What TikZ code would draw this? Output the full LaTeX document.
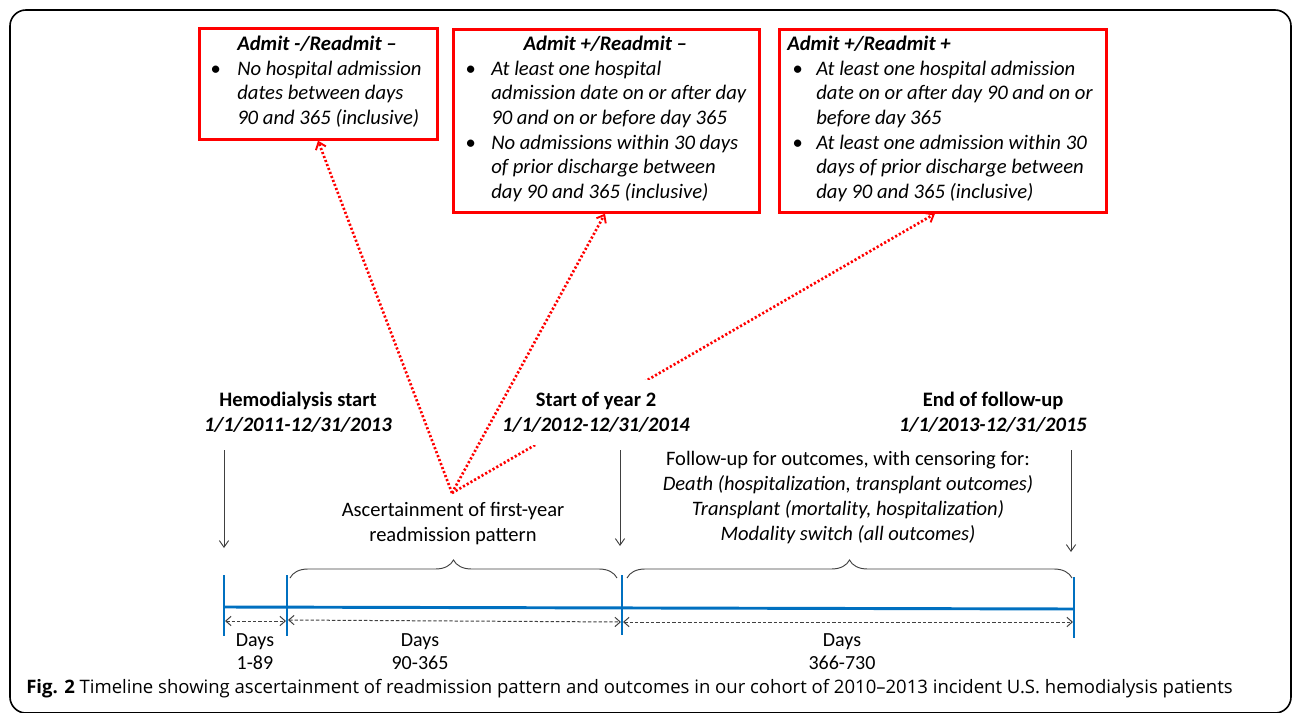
\documentclass[tikz,border=0pt]{standalone}
\usepackage{fontspec}
\setmainfont{Carlito}
\newfontfamily\capfont{Open Sans}
\usetikzlibrary{arrows.meta,decorations.pathreplacing}
\definecolor{tlblue}{HTML}{0070C0}
\definecolor{dgray}{HTML}{404040}
\tikzset{
  redbox/.style={draw=red, line width=2pt, inner sep=0pt, anchor=north west},
  boxtext/.style={anchor=west, inner sep=0pt, font=\fontsize{15.5}{18.5}\selectfont\itshape},
  redarrow/.style={red, line width=2pt, dash pattern=on 1.6pt off 1.6pt, -{Straight Barb[length=5pt,width=8pt,line width=1.4pt]}},
  blackarrow/.style={dgray, line width=0.7pt, -{Straight Barb[length=5pt,width=7pt]}},
  dasharrow/.style={dgray, line width=0.75pt, dash pattern=on 2.5pt off 1.5pt, {Straight Barb[length=4pt,width=7pt]}-{Straight Barb[length=4pt,width=7pt]}},
  tick/.style={tlblue, line width=2.2pt},
  bracestyle/.style={dgray, line width=0.7pt, decorate, decoration={brace, amplitude=13.5pt}},
  lab/.style={align=center, font=\fontsize{15.4}{18.75}\selectfont},
  daylab/.style={align=center, font=\fontsize{15}{17.25}\selectfont}
}
\begin{document}
\begin{tikzpicture}[x=0.75pt,y=-0.75pt]
\useasboundingbox (0,0) rectangle (1292,713);
% frame
\draw[line width=1.2pt, rounded corners=12] (10,10) rectangle (1291,713);

% boxes
\node[redbox, minimum width=178.5pt, minimum height=83.25pt] (b1) at (198,27) {};
\node[redbox, minimum width=229.5pt, minimum height=137.25pt] (b2) at (452,28) {};
\node[redbox, minimum width=245.25pt, minimum height=137.25pt] (b3) at (778,28) {};

\node[boxtext] (t1) at (210,82.5) {\begin{tabular}{@{}p{20.25pt}@{}l@{}}
 & \textbf{Admit -/Readmit –}\\
\textbullet & No hospital admission\\
 & dates between days\\
 & 90 and 365 (inclusive)
\end{tabular}};

\node[boxtext] (t2) at (465,119.5) {\begin{tabular}{@{}p{19.5pt}@{}l@{}}
\multicolumn{2}{@{}p{210pt}@{}}{\centering\textbf{Admit +/Readmit –}}\\
\textbullet & At least one hospital\\
 & admission date on or after day\\
 & 90 and on or before day 365\\
\textbullet & No admissions within 30 days\\
 & of prior discharge between\\
 & day 90 and 365 (inclusive)
\end{tabular}};

\node[boxtext] (t3) at (787,119.5) {\begin{tabular}{@{}p{3.75pt}@{}p{18pt}@{}l@{}}
\multicolumn{3}{@{}l}{\textbf{Admit +/Readmit +}}\\
 & \textbullet & At least one hospital admission\\
 & & date on or after day 90 and on or\\
 & & before day 365\\
 & \textbullet & At least one admission within 30\\
 & & days of prior discharge between\\
 & & day 90 and 365 (inclusive)
\end{tabular}};

% red arrow to third box (partly hidden by the label below)
\coordinate (apex) at (452,493);
\draw[redarrow] (apex) -- (935,0 |- b3.south);

% labels
\node[lab] (hs) at (298,412.5) {\textbf{Hemodialysis start}\\\textbf{\textit{1/1/2011-12/31/2013}}};
\node[lab, fill=white, inner xsep=2pt, inner ysep=9pt] (sy) at (596,412.5) {\textbf{Start of year 2}\\\textbf{\textit{1/1/2012-12/31/2014}}};
\node[lab] (ef) at (993,412.5) {\textbf{End of follow-up}\\\textbf{\textit{1/1/2013-12/31/2015}}};

% red arrows to first and second boxes
\draw[redarrow] (apex) -- (318,0 |- b1.south);
\draw[redarrow] (apex) -- (605,0 |- b2.south);

\node[lab] (asc) at (453,523.5) {Ascertainment of first-year\\readmission pattern};
\node[lab] (fu) at (848,497.5) {Follow-up for outcomes, with censoring for:\\\textit{Death (hospitalization, transplant outcomes)}\\\textit{Transplant (mortality, hospitalization)}\\\textit{Modality switch (all outcomes)}};

% black arrows
\coordinate (a1s) at (224,450); \coordinate (a1e) at (224,548);
\coordinate (a2s) at (620,450); \coordinate (a2e) at (620,546);
\coordinate (a3s) at (1071,450); \coordinate (a3e) at (1071,552);
\draw[blackarrow] (a1s) -- (a1e);
\draw[blackarrow] (a2s) -- (a2e);
\draw[blackarrow] (a3s) -- (a3e);

% braces
\coordinate (br1a) at (290,578); \coordinate (br1b) at (617,578);
\coordinate (br2a) at (627,578); \coordinate (br2b) at (1072,578);
\draw[bracestyle] (br1a) -- (br1b);
\draw[bracestyle] (br2a) -- (br2b);

% timeline
\coordinate (p0) at (224,607); \coordinate (p3) at (1074,609);
\draw[tick] (p0) -- (p3);
\draw[tick] (224,575) -- (224,636);
\draw[tick] (287,575) -- (287,636);
\draw[tick] (622,575) -- (622,635);
\draw[tick] (1074,577) -- (1074,638);

% dashed arrows
\coordinate (d0) at (225,621); \coordinate (d1) at (286,621);
\coordinate (d2) at (288,620); \coordinate (d3) at (621,622);
\coordinate (d4) at (623,622); \coordinate (d5) at (1073,622);
\draw[dasharrow] (d0) -- (d1);
\draw[dasharrow] (d2) -- (d3);
\draw[dasharrow] (d4) -- (d5);

\node[daylab] (dl1) at (255,651.5) {Days\\1-89};
\node[daylab] (dl2) at (420,651.5) {Days\\90-365};
\node[daylab] (dl3) at (842,651.5) {Days\\366-730};

% caption
\node[anchor=west, inner sep=0pt, font=\capfont\fontsize{13.9}{16}\selectfont] (cap) at (26,689) {\textbf{Fig. 2} Timeline showing ascertainment of readmission pattern and outcomes in our cohort of 2010–2013 incident U.S. hemodialysis patients};
\end{tikzpicture}
\end{document}
